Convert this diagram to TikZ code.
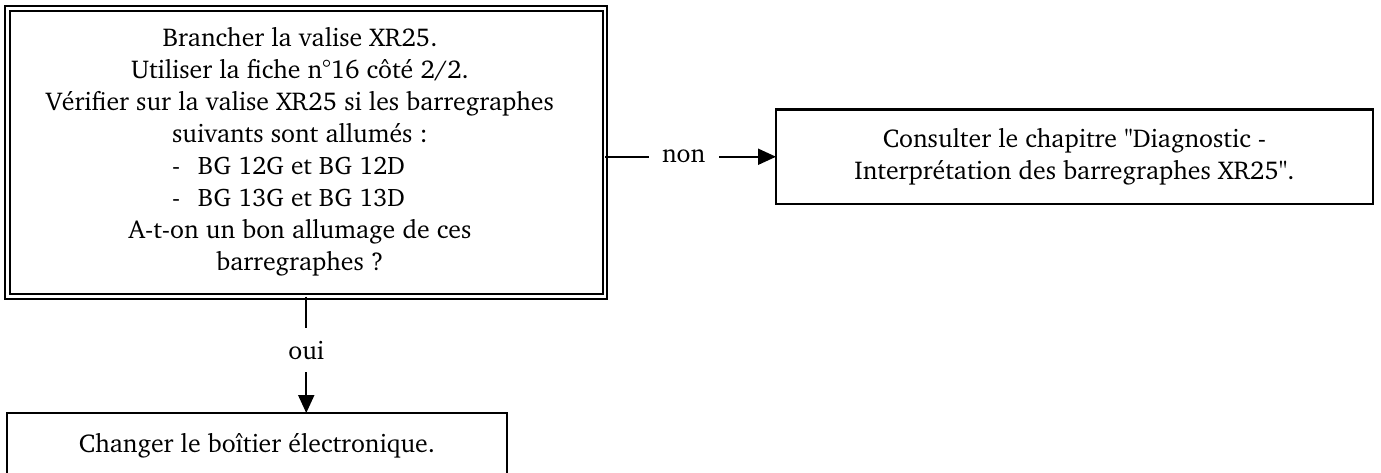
\documentclass[tikz,border=0pt]{standalone}
\usepackage[T1]{fontenc}
\usepackage{charter}
\usepackage{textcomp}
\usetikzlibrary{arrows.meta}

\tikzset{
  box/.style={draw, line width=2.2pt, inner sep=0pt, outer sep=0pt},
  dblbox/.style={draw, line width=2pt, double, double distance=2.8pt, inner sep=0pt, outer sep=0pt},
  link/.style={line width=2pt, ->},
  answer/.style={fill=white, inner sep=0pt, minimum width=70pt, minimum height=44pt},
}

\newcommand{\bigtext}{\fontsize{25.8}{32}\selectfont}
\newcommand{\bgtext}{\fontsize{25.3}{32}\selectfont}
\newcommand{\bgline}[1]{\makebox[256pt][l]{\bgtext\makebox[26pt][l]{-}#1}}

\begin{document}
\begin{tikzpicture}[x=1pt, y=-1pt, >={Triangle[length=18pt,width=16pt]}, font=\bigtext]
  \clip (0,0) rectangle (1381,473);

  % question box
  \node[dblbox, minimum width=597.5pt, minimum height=288pt] (test) at (306.25,152.5) {};
  \node[align=center, anchor=base] (testtxt) at (300,270) {Brancher la valise XR25.\\
    Utiliser la fiche n\textdegree16 côté 2/2.\\
    Vérifier sur la valise XR25 si les barregraphes\\
    suivants sont allumés :\\
    \bgline{BG 12G et BG 12D}\\
    \bgline{BG 13G et BG 13D}\\
    A-t-on un bon allumage de ces\\
    barregraphes ?};

  % answers
  \node[box, minimum width=597pt, minimum height=94.5pt, align=center] (consult) at (1074.5,156.75)
    {Consulter le chapitre "Diagnostic -\\ Interprétation des barregraphes XR25".};
  \node[box, minimum width=500pt, minimum height=66pt] (change) at (257,446)
    {Changer le boîtier électronique.};

  % links
  \draw[link] (test.south) -- node[answer, pos=0.46] {oui} (test.south |- change.north);
  \draw[link] (test.east |- consult.west) -- node[answer, pos=0.46] {non} (consult.west);
\end{tikzpicture}
\end{document}
